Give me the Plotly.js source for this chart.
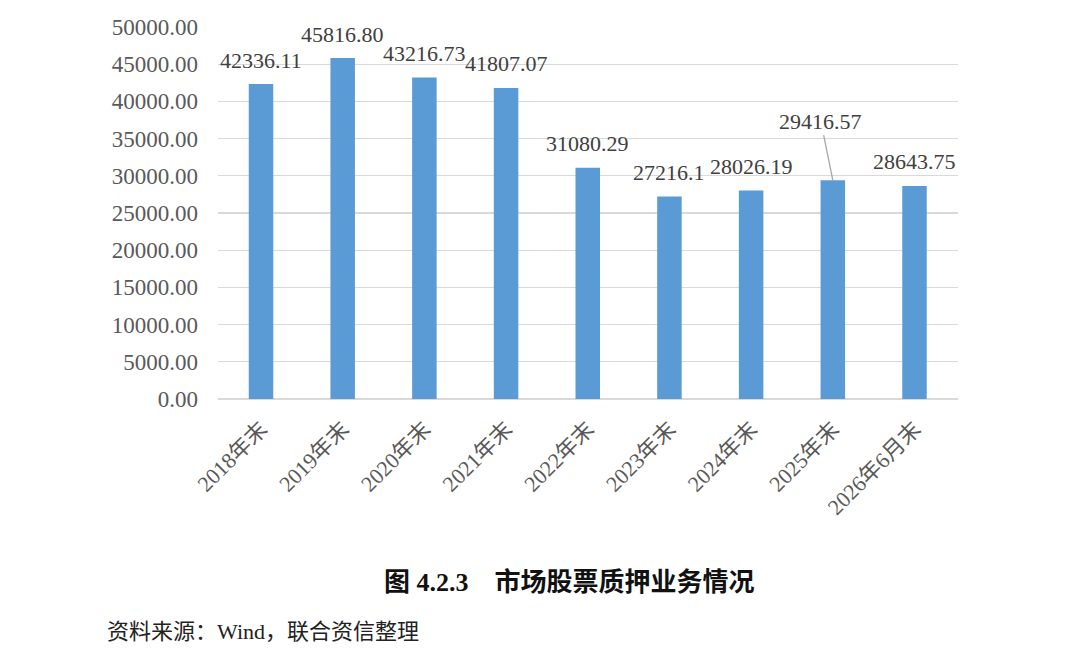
<!DOCTYPE html>
<html>
<head>
<meta charset="utf-8">
<script src="https://cdn.plot.ly/plotly-3.0.1.min.js"></script>
<style>html,body{margin:0;padding:0;background:#fff;}#chart{width:1080px;height:648px;}</style>
</head>
<body>
<div id="chart"></div>
<script>
const categories = ["2018年末","2019年末","2020年末","2021年末","2022年末","2023年末","2024年末","2025年末","2026年6月末"];
const values = [42336.11, 45816.80, 43216.73, 41807.07, 31080.29, 27216.1, 28026.19, 29416.57, 28643.75];
const labels = ["42336.11","45816.80","43216.73","41807.07","31080.29","27216.1","28026.19","29416.57","28643.75"];
const titleText = "图 4.2.3　市场股票质押业务情况";
const sourceText = "资料来源：Wind，联合资信整理";

const numFont = "Liberation Serif, 'Times New Roman', 'Noto Sans CJK SC', serif";

const annotations = categories.map((c, i) => {
  const base = {
    x: c, y: values[i], xref: 'x', yref: 'y',
    text: labels[i],
    font: {family: numFont, size: 22, color: '#404040'}
  };
  if (i === 7) {
    return Object.assign(base, {
      showarrow: true, arrowhead: 0, arrowwidth: 1.3, arrowcolor: '#A6A6A6',
      ax: -12, ay: -59, standoff: 0, startstandoff: 0
    });
  }
  return Object.assign(base, {showarrow: false, yanchor: 'middle', yshift: 24});
});

annotations.push({
  xref: 'paper', yref: 'paper', x: 0.2216, y: -0.4946, xanchor: 'left', yanchor: 'middle',
  showarrow: false, text: '<b>' + titleText + '</b>',
  font: {family: "Liberation Serif, 'Noto Sans CJK SC', serif", size: 26, color: '#111111'}
});
annotations.push({
  xref: 'paper', yref: 'paper', x: -0.1527, y: -0.6263, xanchor: 'left', yanchor: 'middle',
  showarrow: false, text: sourceText,
  font: {family: "Liberation Serif, 'Noto Sans CJK SC', serif", size: 22, color: '#222222'}
});

const trace = {
  type: 'bar', x: categories, y: values,
  marker: {color: '#5B9BD5'}, width: 0.3, hoverinfo: 'none'
};

const layout = {
  width: 1080, height: 648,
  margin: {l: 218, r: 122, t: 27, b: 249},
  paper_bgcolor: '#ffffff', plot_bgcolor: '#ffffff',
  showlegend: false,
  xaxis: {
    type: 'category', tickangle: -45, showgrid: false, showline: false, zeroline: false,
    ticks: '', ticklabelstandoff: 12,
    tickfont: {family: numFont, size: 22, color: '#595959'}
  },
  yaxis: {
    range: [0, 50000], dtick: 5000, tick0: 0, tickformat: '.2f',
    showgrid: true, gridcolor: '#D9D9D9', gridwidth: 1.3,
    zeroline: true, zerolinecolor: '#D9D9D9', zerolinewidth: 1.3,
    showline: false, ticks: '', ticklabelstandoff: 19,
    tickfont: {family: numFont, size: 23, color: '#595959'}
  },
  annotations: annotations
};

Plotly.newPlot('chart', [trace], layout, {displayModeBar: false, staticPlot: true});
</script>
</body>
</html>
